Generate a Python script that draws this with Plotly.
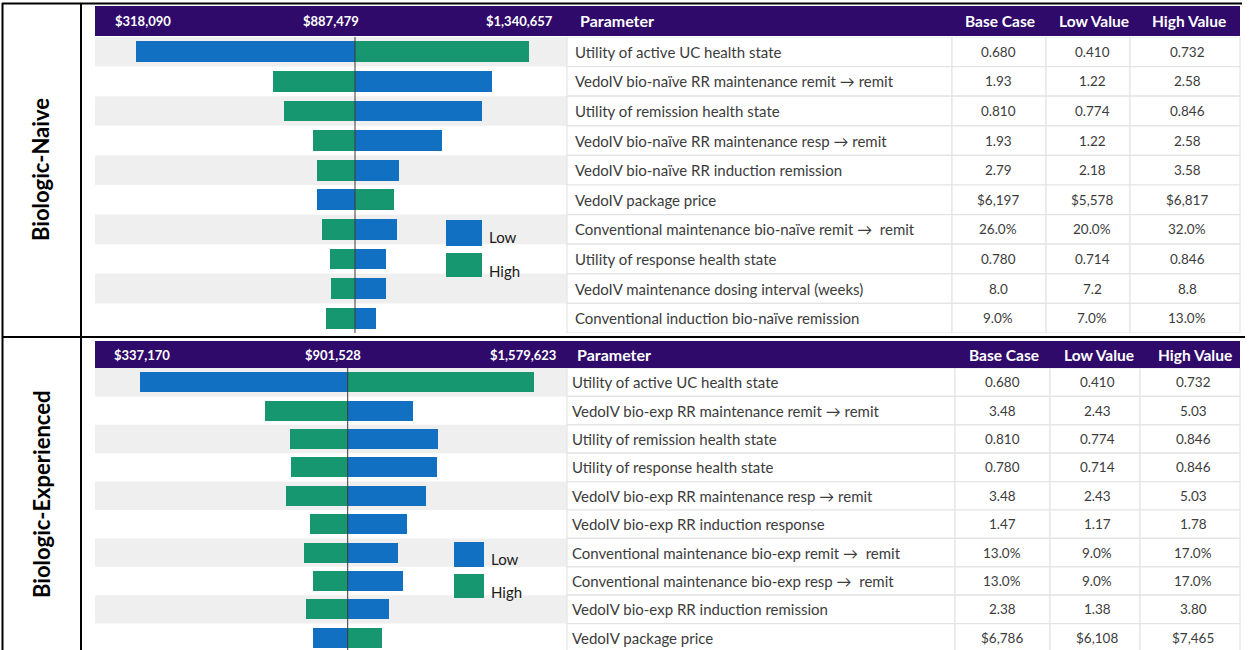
import plotly.graph_objects as go

W, H = 1250, 650

# ---------------- data ----------------
table_columns = ["Parameter", "Base Case", "Low Value", "High Value"]

naive_params = [
    "Utility of active UC health state",
    "VedoIV bio-naïve RR maintenance remit \u2192 remit",
    "Utility of remission health state",
    "VedoIV bio-naïve RR maintenance resp \u2192 remit",
    "VedoIV bio-naïve RR induction remission",
    "VedoIV package price",
    "Conventional maintenance bio-naïve remit \u2192  remit",
    "Utility of response health state",
    "VedoIV maintenance dosing interval (weeks)",
    "Conventional induction bio-naïve remission",
]
naive_base_case = ["0.680", "1.93", "0.810", "1.93", "2.79", "$6,197", "26.0%", "0.780", "8.0", "9.0%"]
naive_low_value = ["0.410", "1.22", "0.774", "1.22", "2.18", "$5,578", "20.0%", "0.714", "7.2", "7.0%"]
naive_high_value = ["0.732", "2.58", "0.846", "2.58", "3.58", "$6,817", "32.0%", "0.846", "8.8", "13.0%"]
naive_icer_base = 887479
naive_header_ticks = ["$318,090", "$887,479", "$1,340,657"]
naive_icer_low = [318090, 1243000, 1219000, 1115000, 1001000, 788600, 996000, 967000, 967000, 943000]
naive_icer_high = [1340657, 673000, 702000, 779000, 789000, 989000, 801000, 822000, 825000, 813000]

exp_params = [
    "Utility of active UC health state",
    "VedoIV bio-exp RR maintenance remit \u2192 remit",
    "Utility of remission health state",
    "Utility of response health state",
    "VedoIV bio-exp RR maintenance resp \u2192 remit",
    "VedoIV bio-exp RR induction response",
    "Conventional maintenance bio-exp remit \u2192  remit",
    "Conventional maintenance bio-exp resp \u2192  remit",
    "VedoIV bio-exp RR induction remission",
    "VedoIV package price",
]
exp_base_case = ["0.680", "3.48", "0.810", "0.780", "3.48", "1.47", "13.0%", "13.0%", "2.38", "$6,786"]
exp_low_value = ["0.410", "2.43", "0.774", "0.714", "2.43", "1.17", "9.0%", "9.0%", "1.38", "$6,108"]
exp_high_value = ["0.732", "5.03", "0.846", "0.846", "5.03", "1.78", "17.0%", "17.0%", "3.80", "$7,465"]
exp_icer_base = 901528
exp_header_ticks = ["$337,170", "$901,528", "$1,579,623"]
exp_icer_low = [337170, 1080000, 1147000, 1145000, 1114000, 1062000, 1039000, 1052000, 1014000, 808000]
exp_icer_high = [1407000, 678000, 745000, 747000, 733000, 798000, 784000, 808000, 789000, 994000]

group_labels = ["Biologic-Naive", "Biologic-Experienced"]
legend_labels = ["Low", "High"]

# ---------------- styles ----------------
BLUE = "#1170c2"
GREEN = "#16976f"
PURPLE = "#2f0a6b"
BAND = "#efefef"
GRID = "#e4e4e4"
TXT = "#3c3c3c"
FONT = "Lato"


def px(x):
    return x / W


def py(y):
    return 1 - y / H


fig = go.Figure()

panels = [
    dict(params=naive_params, base=naive_base_case, low=naive_low_value, high=naive_high_value,
         icer_base=naive_icer_base, ticks=naive_header_ticks, icer_low=naive_icer_low,
         icer_high=naive_icer_high, xa="x", ya="y",
         hdr=(6, 36), tick_x=(113, 331, 555), cols=(567, 952, 1046, 1130, 1240),
         val_x=(998, 1092, 1187), par_x=573, label_y=170,
         leg=(446, 482, 220, 246, 253, 277)),
    dict(params=exp_params, base=exp_base_case, low=exp_low_value, high=exp_high_value,
         icer_base=exp_icer_base, ticks=exp_header_ticks, icer_low=exp_icer_low,
         icer_high=exp_icer_high, xa="x2", ya="y2",
         hdr=(341, 368), tick_x=(112, 333, 558), cols=(567, 955, 1050, 1140, 1240),
         val_x=(1002, 1097, 1193), par_x=570, label_y=495,
         leg=(454, 484, 542, 567, 574, 598)),
]

shapes = []
annotations = []

for pi, p in enumerate(panels):
    n = len(p["params"])
    rows = list(range(n))
    # bars
    fig.add_trace(go.Bar(
        y=rows, x=[v - p["icer_base"] for v in p["icer_low"]], base=p["icer_base"],
        orientation="h", marker=dict(color=BLUE, line=dict(width=0)), width=0.7,
        name="Low", showlegend=False, xaxis=p["xa"], yaxis=p["ya"]))
    fig.add_trace(go.Bar(
        y=rows, x=[v - p["icer_base"] for v in p["icer_high"]], base=p["icer_base"],
        orientation="h", marker=dict(color=GREEN, line=dict(width=0)), width=0.7,
        name="High", showlegend=False, xaxis=p["xa"], yaxis=p["ya"]))

    xa_dom = p["xa"] + " domain"
    ya_dom = p["ya"] + " domain"
    # alternating gray bands
    for i in rows:
        if i % 2 == 0:
            shapes.append(dict(type="rect", xref=xa_dom, yref=p["ya"], x0=0, x1=1,
                               y0=i - 0.5, y1=i + 0.5, fillcolor=BAND, line=dict(width=0),
                               layer="below"))
    # center line
    shapes.append(dict(type="line", xref=p["xa"], yref=ya_dom, x0=p["icer_base"], x1=p["icer_base"],
                       y0=0, y1=1, line=dict(color="#3a3a3a", width=1), layer="above"))
    # table cells
    c = p["cols"]
    for i in rows:
        for k in range(4):
            shapes.append(dict(type="rect", xref="paper", yref=p["ya"], x0=px(c[k]), x1=px(c[k + 1]),
                               y0=i - 0.5, y1=i + 0.5, fillcolor="white",
                               line=dict(color=GRID, width=1.2), layer="below"))
    # purple header
    h0, h1 = p["hdr"]
    shapes.append(dict(type="rect", xref="paper", yref="paper", x0=px(95), x1=px(1240),
                       y0=py(h1), y1=py(h0), fillcolor=PURPLE, line=dict(width=0)))
    hy = py((h0 + h1) / 2)
    for t, tx, anc in zip(p["ticks"], p["tick_x"], ["left", "center", "right"]):
        annotations.append(dict(text=t, x=px(tx), y=hy, xref="paper", yref="paper",
                                xanchor=anc, yanchor="middle", showarrow=False,
                                font=dict(family=FONT, size=13, color="white", weight="bold")))
    annotations.append(dict(text=table_columns[0], x=px(p["par_x"] + 5), y=hy, xref="paper", yref="paper",
                            xanchor="left", yanchor="middle", showarrow=False,
                            font=dict(family=FONT, size=16, color="white", weight="bold")))
    for t, vx in zip(table_columns[1:], p["val_x"]):
        annotations.append(dict(text=t, x=px(vx + 2), y=hy, xref="paper", yref="paper",
                                xanchor="center", yanchor="middle", showarrow=False,
                                font=dict(family=FONT, size=15.5, color="white", weight="bold")))
    # table text
    for i in rows:
        annotations.append(dict(text=p["params"][i], x=px(p["par_x"]), y=i, xref="paper", yref=p["ya"],
                                xanchor="left", yanchor="middle", showarrow=False,
                                font=dict(family=FONT, size=15, color=TXT)))
        for col, vx in zip((p["base"], p["low"], p["high"]), p["val_x"]):
            annotations.append(dict(text=col[i], x=px(vx), y=i, xref="paper", yref=p["ya"],
                                    xanchor="center", yanchor="middle", showarrow=False,
                                    font=dict(family=FONT, size=13.5, color=TXT)))
    # legend boxes
    lx0, lx1, by0, by1, gy0, gy1 = p["leg"]
    shapes.append(dict(type="rect", xref="paper", yref="paper", x0=px(lx0), x1=px(lx1),
                       y0=py(by1), y1=py(by0), fillcolor=BLUE, line=dict(width=0)))
    shapes.append(dict(type="rect", xref="paper", yref="paper", x0=px(lx0), x1=px(lx1),
                       y0=py(gy1), y1=py(gy0), fillcolor=GREEN, line=dict(width=0)))
    annotations.append(dict(text=legend_labels[0], x=px(lx1 + 5), y=py((by0 + by1) / 2 + 4),
                            xref="paper", yref="paper", xanchor="left", yanchor="middle",
                            showarrow=False, font=dict(family=FONT, size=15, color="#1a1a1a")))
    annotations.append(dict(text=legend_labels[1], x=px(lx1 + 5), y=py((gy0 + gy1) / 2 + 6),
                            xref="paper", yref="paper", xanchor="left", yanchor="middle",
                            showarrow=False, font=dict(family=FONT, size=15, color="#1a1a1a")))
    # group label
    annotations.append(dict(text=group_labels[pi], x=px(41), y=py(p["label_y"]), xref="paper",
                            yref="paper", textangle=-90, xanchor="center", yanchor="middle",
                            showarrow=False, font=dict(family=FONT, size=22, color="black", weight="bold")))

# frame lines
BL = dict(color="black", width=2)
shapes += [
    dict(type="line", xref="paper", yref="paper", x0=px(2), x1=px(1242), y0=py(3.5), y1=py(3.5), line=BL),
    dict(type="line", xref="paper", yref="paper", x0=px(2), x1=px(1245), y0=py(337), y1=py(337), line=BL),
    dict(type="line", xref="paper", yref="paper", x0=px(2.5), x1=px(2.5), y0=py(3), y1=py(650), line=BL),
    dict(type="line", xref="paper", yref="paper", x0=px(81), x1=px(81), y0=py(3), y1=py(650), line=BL),
]

fig.update_layout(
    width=W, height=H,
    margin=dict(l=0, r=0, t=0, b=0),
    paper_bgcolor="white", plot_bgcolor="rgba(0,0,0,0)",
    barmode="overlay", bargap=0,
    showlegend=False,
    shapes=shapes, annotations=annotations,
    xaxis=dict(domain=[px(95), px(567)], range=[210959, 1439103], visible=False, anchor="y",
               fixedrange=True),
    yaxis=dict(domain=[py(333), py(37)], range=[9.5, -0.5], visible=False, anchor="x",
               fixedrange=True),
    xaxis2=dict(domain=[px(95), px(567)], range=[215953, 1496489], visible=False, anchor="y2",
                fixedrange=True),
    yaxis2=dict(domain=[0, py(368)], range=[9.43, -0.5], visible=False, anchor="x2",
                fixedrange=True),
)

fig.write_html("out.html", config=dict(displayModeBar=False),
               post_script="document.body.style.margin='0';document.body.style.overflow='hidden';")
